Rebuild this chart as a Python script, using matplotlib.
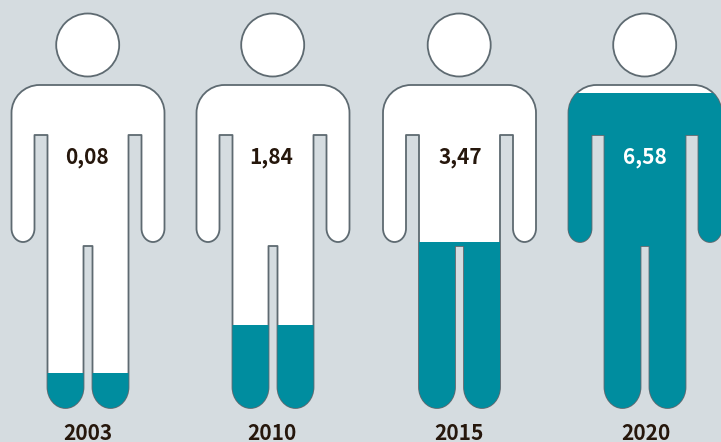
import matplotlib
matplotlib.use('Agg')
import matplotlib.pyplot as plt
import numpy as np
from matplotlib.path import Path
from matplotlib.patches import PathPatch, Circle

years = ['2003', '2010', '2015', '2020']
values = [0.08, 1.84, 3.47, 6.58]
value_labels = ['0,08', '1,84', '3,47', '6,58']

# the figures are not filled linearly, so the level follows this gauge
gauge_values = [0.08, 1.84, 3.47, 6.58]
gauge_heights = [35.5, 83.8, 167, 316.3]

centers = [88, 273, 459.5, 645]
value_x = [87, 271, 460.5, 645]
year_x = [87.5, 272, 459, 645.5]

BG = '#d5dce0'
TEAL = '#008d9f'
EDGE = '#5e6a71'
INK = '#26170c'

plt.rcParams['font.family'] = ['Noto Sans CJK SC', 'DejaVu Sans']

KAPPA = 0.5523


def corner(verts, codes, p0, p1, horizontal_first):
    # quarter ellipse from p0 to p1 as a cubic bezier
    x0, y0 = p0
    x1, y1 = p1
    if horizontal_first:
        c1 = (x0 + (x1 - x0) * KAPPA, y0)
        c2 = (x1, y1 - (y1 - y0) * KAPPA)
    else:
        c1 = (x0, y0 + (y1 - y0) * KAPPA)
        c2 = (x1 - (x1 - x0) * KAPPA, y1)
    verts += [c1, c2, p1]
    codes += [Path.CURVE4] * 3


def body_path(cx):
    outer, arm, side, gap = 76.5, 53.5, 40.5, 4.5
    top, pit, arm_end, crotch, foot = 85.0, 135.0, 242.0, 246.0, 408.0
    sh = 28.0
    arm_r = (outer - arm) / 2
    arm_ry = 13.5
    leg_r = (side - gap) / 2
    leg_ry = 21.0

    verts = [(cx - outer, top + sh)]
    codes = [Path.MOVETO]

    def line(x, y):
        verts.append((x, y))
        codes.append(Path.LINETO)

    corner(verts, codes, (cx - outer, top + sh), (cx - outer + sh, top), False)
    line(cx + outer - sh, top)
    corner(verts, codes, (cx + outer - sh, top), (cx + outer, top + sh), True)
    # right arm
    line(cx + outer, arm_end - arm_ry)
    corner(verts, codes, (cx + outer, arm_end - arm_ry), (cx + outer - arm_r, arm_end), False)
    corner(verts, codes, (cx + outer - arm_r, arm_end), (cx + arm, arm_end - arm_ry), True)
    line(cx + arm, pit)
    line(cx + side, pit)
    # right leg
    line(cx + side, foot - leg_ry)
    corner(verts, codes, (cx + side, foot - leg_ry), (cx + side - leg_r, foot), False)
    corner(verts, codes, (cx + side - leg_r, foot), (cx + gap, foot - leg_ry), True)
    line(cx + gap, crotch)
    line(cx - gap, crotch)
    # left leg
    line(cx - gap, foot - leg_ry)
    corner(verts, codes, (cx - gap, foot - leg_ry), (cx - gap - leg_r, foot), False)
    corner(verts, codes, (cx - gap - leg_r, foot), (cx - side, foot - leg_ry), True)
    line(cx - side, pit)
    line(cx - arm, pit)
    # left arm
    line(cx - arm, arm_end - arm_ry)
    corner(verts, codes, (cx - arm, arm_end - arm_ry), (cx - arm - arm_r, arm_end), False)
    corner(verts, codes, (cx - arm - arm_r, arm_end), (cx - outer, arm_end - arm_ry), True)
    verts.append((cx - outer, top + sh))
    codes.append(Path.CLOSEPOLY)
    return Path(verts, codes)


fig = plt.figure(figsize=(7.21, 4.42), dpi=100, facecolor=BG)
ax = fig.add_axes([0, 0, 1, 1])
ax.set_xlim(0, 721)
ax.set_ylim(442, 0)
ax.axis('off')

heights = np.interp(values, gauge_values, gauge_heights)

for i, cx in enumerate(centers):
    ax.add_patch(Circle((cx - 0.3, 45), 31.5, facecolor='white', edgecolor=EDGE, lw=1.3))
    ax.add_patch(PathPatch(body_path(cx), facecolor='white', edgecolor=EDGE, lw=1.3, joinstyle='round'))

    bars = ax.bar(cx, -heights[i], bottom=408.8, width=156, color=TEAL, linewidth=0, zorder=3)
    for b in bars:
        b.set_clip_path(PathPatch(body_path(cx), transform=ax.transData))

    color = 'white' if values[i] > 5 else INK
    ax.text(value_x[i], 157, value_labels[i], ha='center', va='center', color=color,
            fontsize=15, fontweight='bold', zorder=4)
    ax.text(year_x[i], 433, years[i], ha='center', va='center', color=INK,
            fontsize=15, fontweight='bold', zorder=4)

fig.savefig('out.png', dpi=100, facecolor=BG)
